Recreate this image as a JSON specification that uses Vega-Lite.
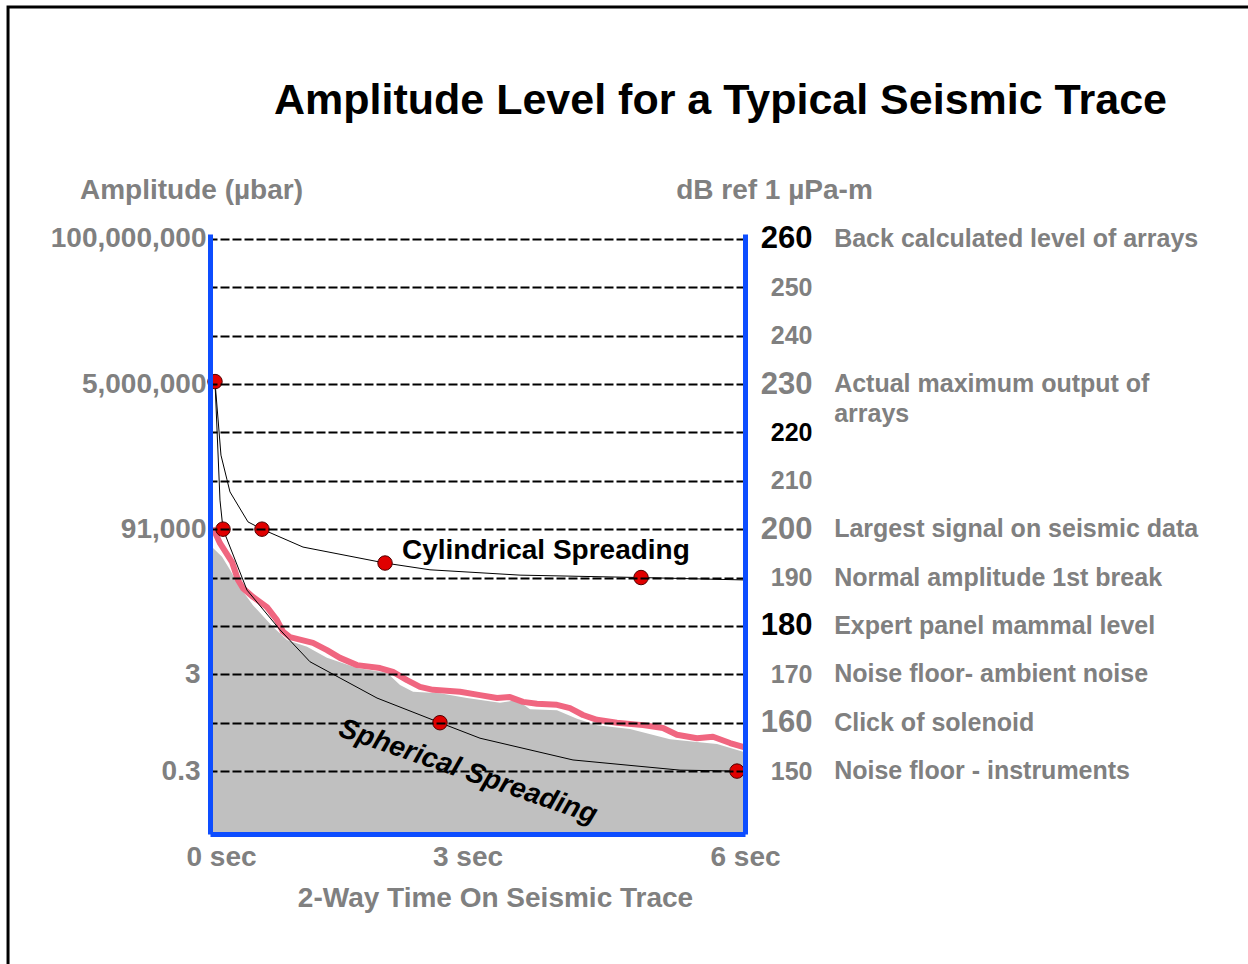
{
  "$schema": "https://vega.github.io/schema/vega-lite/v6.json",
  "width": 535,
  "height": 600,
  "autosize": {"type": "none"},
  "padding": {"left": 210, "top": 234, "right": 503, "bottom": 130},
  "background": "white",
  "config": {"font": "Liberation Sans", "view": {"stroke": null}},
  "title": {
    "text": "Amplitude Level for a Typical Seismic Trace",
    "fontSize": 43,
    "fontWeight": "bold",
    "color": "black",
    "anchor": "start",
    "frame": "group",
    "baseline": "alphabetic",
    "dx": 64,
    "offset": -151
  },
  "datasets": {
    "trace": [
      {"t": 0.0, "db": 196.1}, {"t": 0.034, "db": 196.1}, {"t": 0.135, "db": 194.3}, {"t": 0.224, "db": 191.6},
      {"t": 0.336, "db": 188.0}, {"t": 0.482, "db": 184.3}, {"t": 0.707, "db": 179.8}, {"t": 0.864, "db": 177.1},
      {"t": 1.088, "db": 175.7}, {"t": 1.312, "db": 173.4}, {"t": 1.649, "db": 171.3}, {"t": 1.985, "db": 170.3},
      {"t": 2.131, "db": 167.8}, {"t": 2.277, "db": 166.4}, {"t": 2.579, "db": 166.1}, {"t": 2.882, "db": 165.1},
      {"t": 3.252, "db": 164.1}, {"t": 3.443, "db": 164.7}, {"t": 3.589, "db": 162.8}, {"t": 3.891, "db": 162.6},
      {"t": 4.116, "db": 160.8}, {"t": 4.34, "db": 159.5}, {"t": 4.71, "db": 158.7}, {"t": 5.159, "db": 156.6},
      {"t": 5.461, "db": 156.0}, {"t": 5.686, "db": 155.6}, {"t": 5.978, "db": 154.0}, {"t": 6.0, "db": 154.0}
    ],
    "envelope": [
      {"t": 0.045, "db": 199.8}, {"t": 0.112, "db": 197.1}, {"t": 0.247, "db": 193.2}, {"t": 0.314, "db": 189.5},
      {"t": 0.37, "db": 187.8}, {"t": 0.482, "db": 186.0}, {"t": 0.639, "db": 183.9}, {"t": 0.751, "db": 181.2},
      {"t": 0.819, "db": 178.8}, {"t": 0.897, "db": 177.7}, {"t": 1.155, "db": 176.5}, {"t": 1.312, "db": 175.0},
      {"t": 1.458, "db": 173.4}, {"t": 1.649, "db": 171.9}, {"t": 1.906, "db": 171.3}, {"t": 2.052, "db": 170.5},
      {"t": 2.209, "db": 168.8}, {"t": 2.355, "db": 167.4}, {"t": 2.501, "db": 166.8}, {"t": 2.804, "db": 166.4},
      {"t": 3.028, "db": 165.7}, {"t": 3.219, "db": 165.1}, {"t": 3.364, "db": 165.3}, {"t": 3.51, "db": 164.3},
      {"t": 3.667, "db": 163.9}, {"t": 3.891, "db": 163.7}, {"t": 4.037, "db": 163.0}, {"t": 4.183, "db": 161.6},
      {"t": 4.34, "db": 160.6}, {"t": 4.564, "db": 160.0}, {"t": 4.856, "db": 159.5}, {"t": 5.08, "db": 158.9},
      {"t": 5.237, "db": 157.5}, {"t": 5.461, "db": 156.8}, {"t": 5.641, "db": 157.1}, {"t": 5.832, "db": 155.8},
      {"t": 5.978, "db": 155.0}
    ],
    "spherical": [
      {"t": 0.056, "db": 230.5}, {"t": 0.112, "db": 206.0}, {"t": 0.146, "db": 200.0}, {"t": 0.415, "db": 187.4},
      {"t": 0.785, "db": 179.2}, {"t": 1.121, "db": 172.6}, {"t": 1.873, "db": 165.1}, {"t": 2.579, "db": 160.0},
      {"t": 3.028, "db": 156.8}, {"t": 4.071, "db": 152.3}, {"t": 5.271, "db": 150.2}, {"t": 5.91, "db": 150.0}
    ],
    "cylindrical": [
      {"t": 0.056, "db": 230.5}, {"t": 0.123, "db": 215.3}, {"t": 0.191, "db": 210.2}, {"t": 0.224, "db": 207.7},
      {"t": 0.426, "db": 201.5}, {"t": 0.583, "db": 200.0}, {"t": 1.043, "db": 196.3}, {"t": 1.963, "db": 193.0},
      {"t": 2.467, "db": 191.6}, {"t": 3.477, "db": 190.5}, {"t": 4.834, "db": 190.0}, {"t": 6.0, "db": 189.5}
    ],
    "dots": [
      {"t": 0.056, "db": 230.5}, {"t": 0.146, "db": 200.0}, {"t": 0.583, "db": 200.0}, {"t": 1.963, "db": 193.0},
      {"t": 4.834, "db": 190.0}, {"t": 2.579, "db": 160.0}, {"t": 5.91, "db": 150.0}
    ],
    "levels": [
      {"db": 260, "label": "Back calculated level of arrays"},
      {"db": 230, "label": "Actual maximum output of\narrays"},
      {"db": 200, "label": "Largest signal on seismic data"},
      {"db": 190, "label": "Normal amplitude 1st break"},
      {"db": 180, "label": "Expert panel mammal level"},
      {"db": 170, "label": "Noise floor- ambient noise"},
      {"db": 160, "label": "Click of solenoid"},
      {"db": 150, "label": "Noise floor - instruments"}
    ],
    "cylnote": [{"t": 2.153, "db": 195.5, "label": "Cylindrical Spreading"}],
    "sphnote": [{"t": 2.893, "db": 149.8, "label": "Spherical Spreading"}]
  },
  "resolve": {"axis": {"y": "independent"}},
  "layer": [
    {
      "data": {"values": [{"frame": 1}]},
      "mark": {"type": "rect", "filled": false, "stroke": "black", "strokeWidth": 3},
      "encoding": {
        "x": {"datum": -2.265, "type": "quantitative"},
        "x2": {"datum": 12},
        "y": {"datum": 307.9, "type": "quantitative", "axis": null},
        "y2": {"datum": 100}
      }
    },
    {
      "data": {"name": "trace"},
      "mark": {"type": "area", "color": "#c0c0c0"},
      "encoding": {
        "x": {
          "field": "t", "type": "quantitative",
          "scale": {"domain": [0, 6], "nice": false, "zero": false},
          "axis": {
            "values": [0, 3, 6],
            "labelExpr": "datum.value + ' sec'",
            "labelColor": "#808080", "labelFontSize": 28, "labelFontWeight": "bold",
            "labelFlush": false,
            "labelOffset": {"condition": [{"test": "datum.value == 0", "value": 11}, {"test": "datum.value == 3", "value": -10}], "value": 0},
            "labelPadding": 9, "ticks": false, "grid": false,
            "domainColor": "#0d4dff", "domainWidth": 5,
            "title": "2-Way Time On Seismic Trace",
            "titleColor": "#808080", "titleFontSize": 28, "titleFontWeight": "bold",
            "titleX": 285, "titleY": 64, "titleAlign": "center", "titleBaseline": "middle",
            "zindex": 1
          }
        },
        "y": {
          "field": "db", "type": "quantitative",
          "scale": {"domain": [137, 261], "nice": false, "zero": false},
          "axis": {
            "orient": "left",
            "values": [260, 230, 200, 170, 150],
            "labelExpr": "datum.value == 260 ? '100,000,000' : datum.value == 230 ? '5,000,000' : datum.value == 200 ? '91,000' : datum.value == 170 ? '3' : '0.3'",
            "labelColor": "#808080", "labelFontSize": 28, "labelFontWeight": "bold",
            "labelPadding": {"condition": {"test": "datum.value <= 170", "value": 10}, "value": 4},
            "labelBaseline": "middle", "ticks": false, "grid": false,
            "domainColor": "#0d4dff", "domainWidth": 5,
            "title": "Amplitude (µbar)",
            "titleColor": "#808080", "titleFontSize": 28, "titleFontWeight": "bold",
            "titleAngle": 0, "titleX": -19, "titleY": -44, "titleAlign": "center", "titleBaseline": "middle",
            "zindex": 1
          }
        },
        "y2": {"datum": 137}
      }
    },
    {
      "data": {"name": "envelope"},
      "mark": {"type": "line", "color": "#f06680", "strokeWidth": 6, "strokeJoin": "round", "strokeCap": "round"},
      "encoding": {
        "x": {"field": "t", "type": "quantitative"},
        "y": {
          "field": "db", "type": "quantitative",
          "axis": {
            "orient": "right",
            "values": [260, 250, 240, 230, 220, 210, 200, 190, 180, 170, 160, 150],
            "labelAlign": "right", "labelBaseline": "middle", "labelPadding": 67,
            "labelFontWeight": "bold",
            "labelColor": {"condition": {"test": "datum.value == 260 || datum.value == 220 || datum.value == 180", "value": "black"}, "value": "#808080"},
            "labelFontSize": {"condition": {"test": "datum.value == 260 || datum.value == 230 || datum.value == 200 || datum.value == 180 || datum.value == 160", "value": 31}, "value": 25},
            "ticks": false,
            "grid": true, "gridColor": "black", "gridWidth": 2, "gridDash": [9, 3], "gridOpacity": 1,
            "domainColor": "#0d4dff", "domainWidth": 5,
            "title": "dB ref 1 µPa-m",
            "titleColor": "#808080", "titleFontSize": 28, "titleFontWeight": "bold",
            "titleAngle": 0, "titleX": 29, "titleY": -44, "titleAlign": "center", "titleBaseline": "middle",
            "zindex": 1
          }
        }
      }
    },
    {
      "data": {"name": "spherical"},
      "mark": {"type": "line", "color": "black", "strokeWidth": 1},
      "encoding": {
        "x": {"field": "t", "type": "quantitative"},
        "y": {"field": "db", "type": "quantitative", "axis": null}
      }
    },
    {
      "data": {"name": "cylindrical"},
      "mark": {"type": "line", "color": "black", "strokeWidth": 1},
      "encoding": {
        "x": {"field": "t", "type": "quantitative"},
        "y": {"field": "db", "type": "quantitative", "axis": null}
      }
    },
    {
      "data": {"name": "dots"},
      "mark": {"type": "point", "filled": true, "fill": "#e00000", "stroke": "#500000", "strokeWidth": 1, "size": 210, "opacity": 1},
      "encoding": {
        "x": {"field": "t", "type": "quantitative"},
        "y": {"field": "db", "type": "quantitative", "axis": null}
      }
    },
    {
      "data": {"name": "cylnote"},
      "mark": {"type": "text", "align": "left", "baseline": "middle", "fontSize": 28, "fontWeight": "bold", "color": "black"},
      "encoding": {
        "x": {"field": "t", "type": "quantitative"},
        "y": {"field": "db", "type": "quantitative", "axis": null},
        "text": {"field": "label"}
      }
    },
    {
      "data": {"name": "sphnote"},
      "mark": {"type": "text", "align": "center", "baseline": "middle", "fontSize": 28, "fontWeight": "bold", "fontStyle": "italic", "angle": 19, "color": "black"},
      "encoding": {
        "x": {"field": "t", "type": "quantitative"},
        "y": {"field": "db", "type": "quantitative", "axis": null},
        "text": {"field": "label"}
      }
    },
    {
      "data": {"name": "levels"},
      "mark": {"type": "text", "align": "left", "baseline": "top", "dy": -12, "fontSize": 25, "fontWeight": "bold", "color": "#808080", "lineBreak": "\n", "lineHeight": 30},
      "encoding": {
        "x": {"datum": 7.0, "type": "quantitative"},
        "y": {"field": "db", "type": "quantitative", "axis": null},
        "text": {"field": "label"}
      }
    }
  ]
}
